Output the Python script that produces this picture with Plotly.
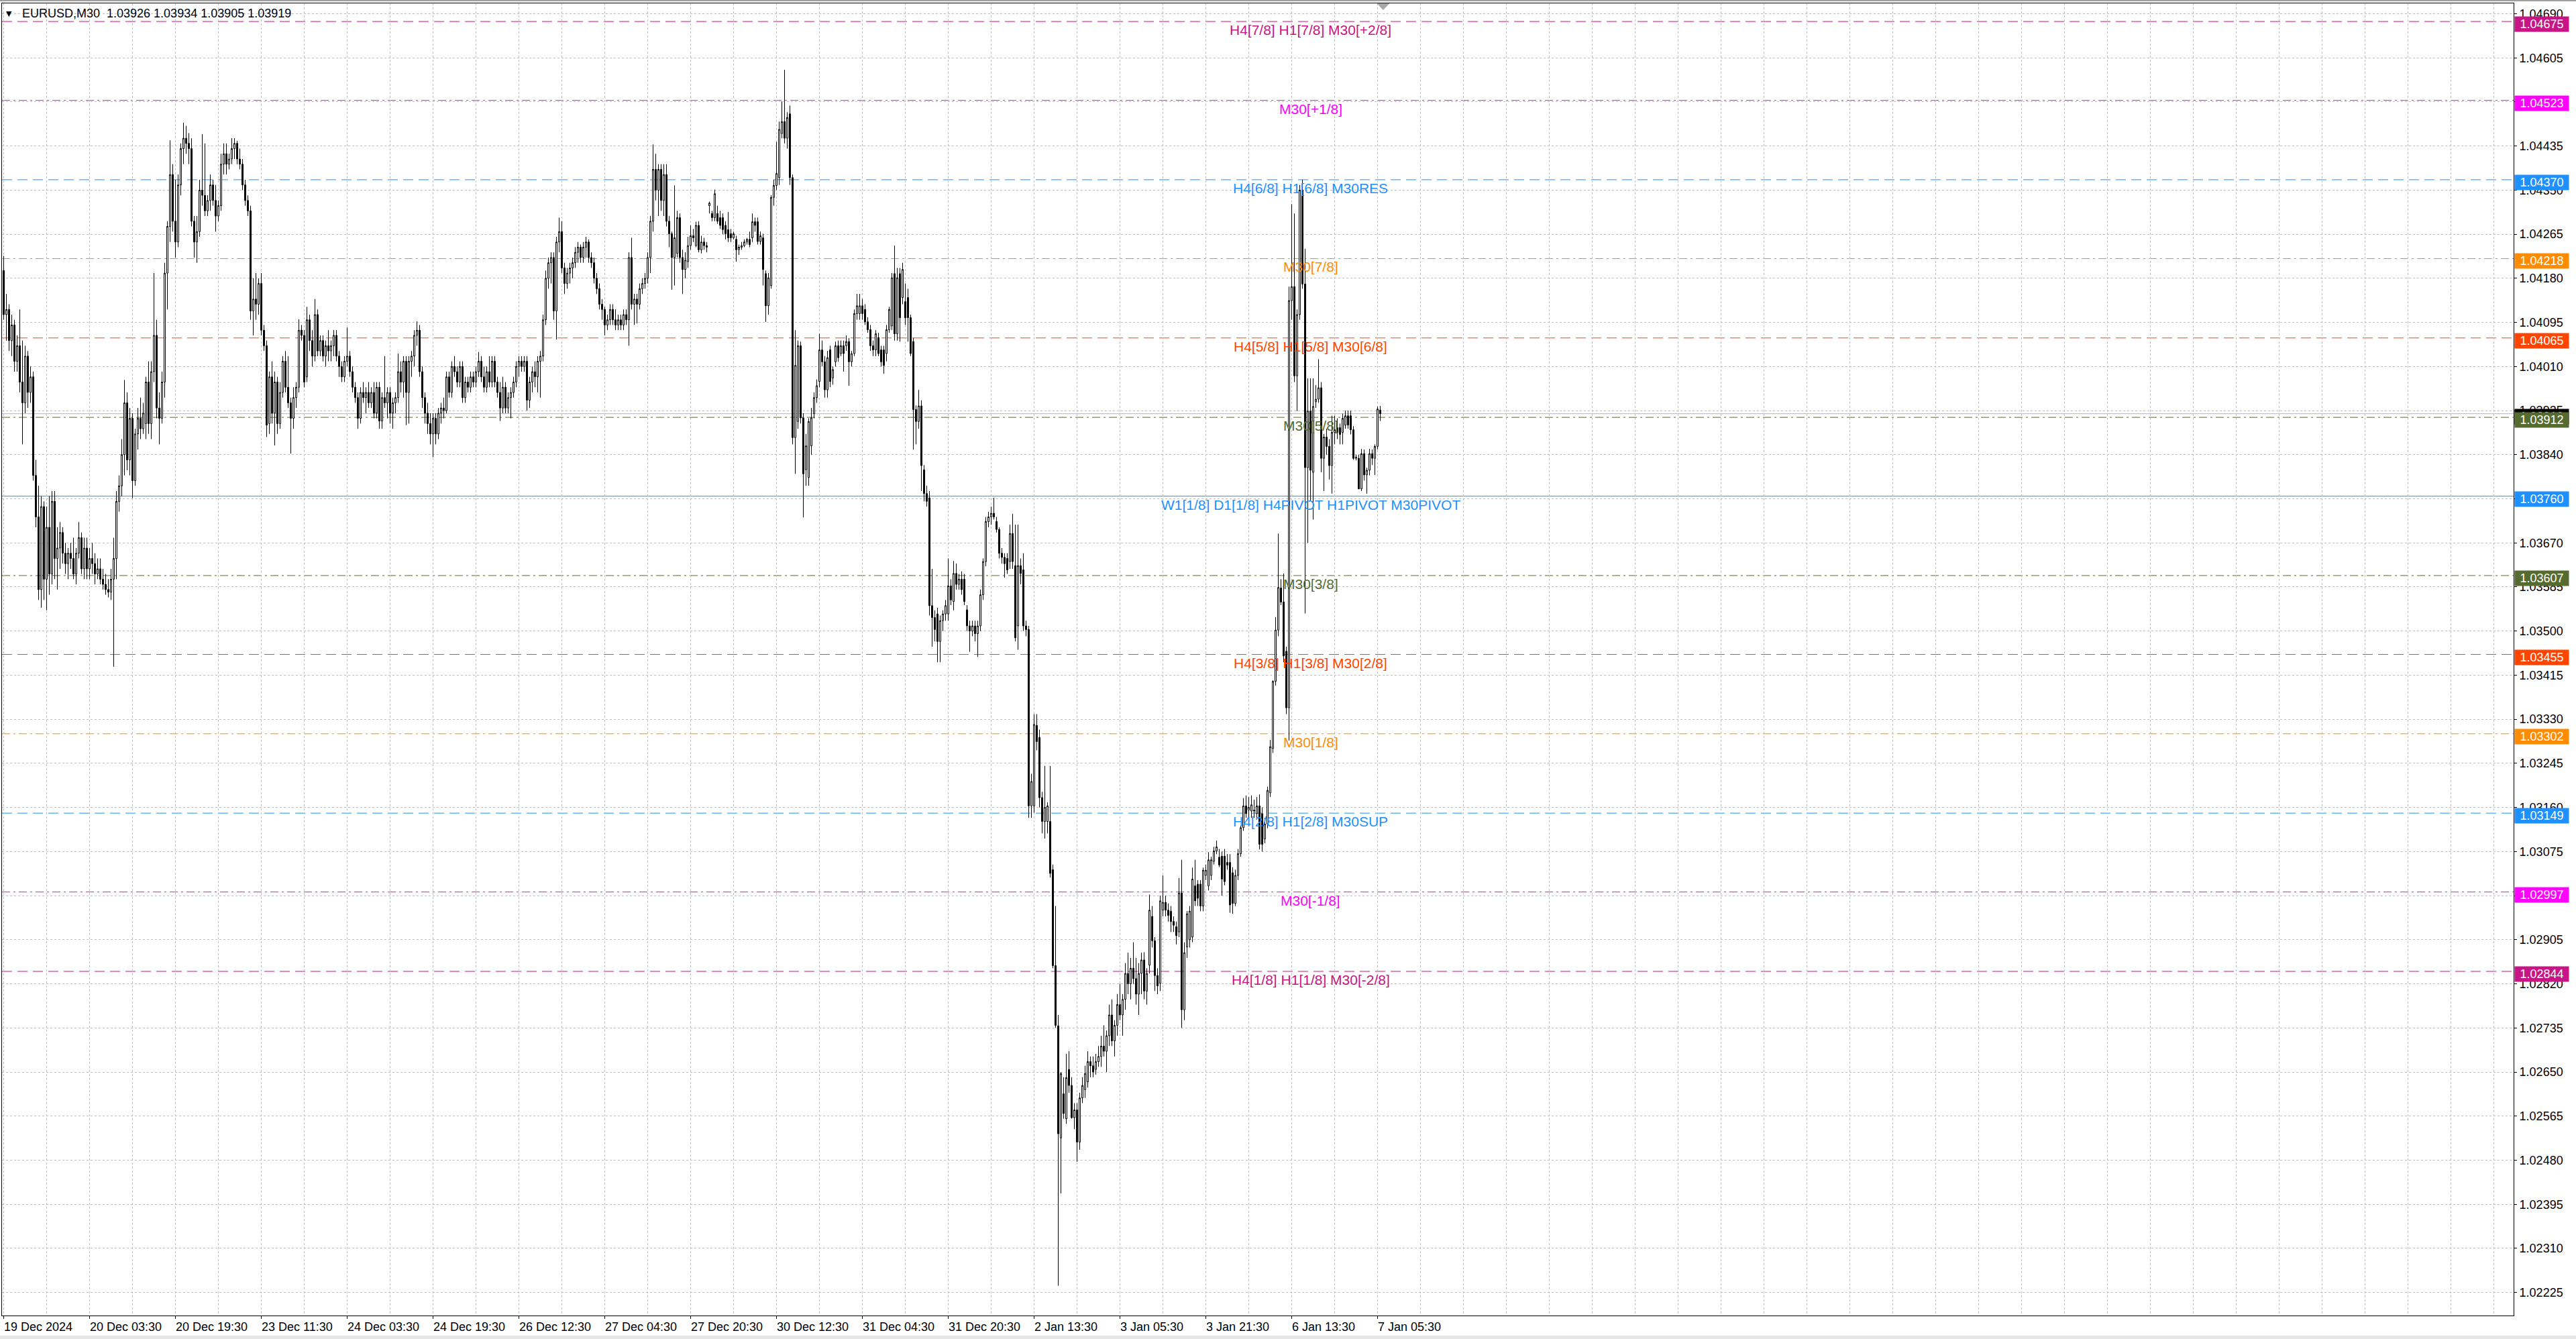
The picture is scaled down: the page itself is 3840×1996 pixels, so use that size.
import plotly.graph_objects as go

SYMBOL = "EURUSD,M30"

OPEN = [
    1.04195, 1.04110, 1.04120, 1.04060, 1.04090, 1.04020, 1.04050, 1.03980, 1.03940, 1.04030,
    1.03960, 1.03990, 1.03800, 1.03720, 1.03580, 1.03740, 1.03600, 1.03700, 1.03610, 1.03750,
    1.03640, 1.03660, 1.03690, 1.03650, 1.03630, 1.03650, 1.03640, 1.03610, 1.03650, 1.03680,
    1.03620, 1.03660, 1.03620, 1.03640, 1.03630, 1.03610, 1.03620, 1.03600, 1.03590, 1.03580,
    1.03575, 1.03600, 1.03640, 1.03750, 1.03780, 1.03840, 1.03940, 1.03830, 1.03910, 1.03790,
    1.03880, 1.03910, 1.03890, 1.03900, 1.03980, 1.03900, 1.04000, 1.04070, 1.03930, 1.03910,
    1.03980, 1.04190, 1.04280, 1.04380, 1.04290, 1.04250, 1.04360, 1.04430, 1.04450, 1.04440,
    1.04430, 1.04290, 1.04250, 1.04270, 1.04350, 1.04340, 1.04310, 1.04330, 1.04360, 1.04330,
    1.04300, 1.04320, 1.04400, 1.04420, 1.04400, 1.04410, 1.04430, 1.04440, 1.04410, 1.04400,
    1.04360, 1.04330, 1.04310, 1.04117, 1.04140, 1.04130, 1.04170, 1.04080, 1.04050, 1.03900,
    1.03990, 1.03920, 1.03980, 1.03900, 1.03960, 1.04020, 1.03970, 1.03940, 1.03910, 1.03950,
    1.03970, 1.04080, 1.04070, 1.03990, 1.04100, 1.04060, 1.04030, 1.04110, 1.04040, 1.04060,
    1.04030, 1.04050, 1.04040, 1.04050, 1.04070, 1.04030, 1.04010, 1.03990, 1.04020, 1.04030,
    1.04000, 1.03970, 1.03950, 1.03910, 1.03960, 1.03950, 1.03960, 1.03940, 1.03960, 1.03920,
    1.03970, 1.03905, 1.03950, 1.03940, 1.03960, 1.03920, 1.03940, 1.03950, 1.04000, 1.03980,
    1.04020, 1.03960, 1.04020, 1.04030, 1.04070, 1.04080, 1.04000, 1.03950, 1.03920, 1.03900,
    1.03880, 1.03910, 1.03880, 1.03920, 1.03930, 1.03925, 1.03990, 1.03960, 1.04010, 1.04000,
    1.03980, 1.04010, 1.03950, 1.03980, 1.03970, 1.03990, 1.03980, 1.04000, 1.04020, 1.03990,
    1.03970, 1.04000, 1.03980, 1.04020, 1.03980, 1.03960, 1.03930, 1.03970, 1.03930, 1.03950,
    1.03960, 1.03980, 1.04010, 1.04020, 1.04010, 1.04020, 1.03945, 1.03980, 1.04000, 1.03990,
    1.04020, 1.04030, 1.04100, 1.04180, 1.04210, 1.04220, 1.04117, 1.04250, 1.04270, 1.04200,
    1.04170, 1.04190, 1.04200, 1.04210, 1.04230, 1.04240, 1.04220, 1.04240, 1.04250, 1.04220,
    1.04210, 1.04180, 1.04160, 1.04130, 1.04120, 1.04090, 1.04100, 1.04120, 1.04100, 1.04090,
    1.04100, 1.04090, 1.04110, 1.04100, 1.04220, 1.04130, 1.04140, 1.04130, 1.04160, 1.04170,
    1.04180, 1.04220, 1.04290, 1.04390, 1.04350, 1.04390, 1.04330, 1.04380, 1.04290, 1.04266,
    1.04220, 1.04228, 1.04297, 1.04220, 1.04197, 1.04212, 1.04243, 1.04262, 1.04243, 1.04282,
    1.04235, 1.04250, 1.04243, 1.04320, 1.04305, 1.04297, 1.04305, 1.04297, 1.04297, 1.04282,
    1.04274, 1.04266, 1.04258, 1.04255, 1.04235, 1.04240, 1.04243, 1.04250, 1.04255, 1.04258,
    1.04289, 1.04289, 1.04251, 1.04258, 1.04189, 1.04127, 1.04166, 1.04336, 1.04359, 1.04374,
    1.04459, 1.04482, 1.04450, 1.04497, 1.04374, 1.03873, 1.03904, 1.04050, 1.03911, 1.03811,
    1.03796, 1.03857, 1.03919, 1.03950, 1.03981, 1.04042, 1.04019, 1.03965, 1.04042, 1.03988,
    1.04019, 1.04050, 1.04035, 1.04050, 1.04050, 1.04058, 1.04019, 1.04035, 1.04112, 1.04112,
    1.04127, 1.04120, 1.04096, 1.04081, 1.04050, 1.04042, 1.04066, 1.04042, 1.04042, 1.04035,
    1.04081, 1.04088, 1.04189, 1.04073, 1.04189, 1.04143, 1.04135, 1.04143, 1.04104, 1.04058,
    1.03927, 1.03904, 1.03934, 1.03811, 1.03765, 1.03757, 1.03549, 1.03526, 1.03533, 1.03480,
    1.03520, 1.03533, 1.03533, 1.03587, 1.03557, 1.03611, 1.03590, 1.03600, 1.03600, 1.03541,
    1.03510, 1.03500, 1.03510, 1.03495, 1.03510, 1.03570, 1.03634, 1.03711, 1.03720, 1.03727,
    1.03711, 1.03696, 1.03650, 1.03642, 1.03640, 1.03634, 1.03688, 1.03626, 1.03510, 1.03626,
    1.03618, 1.03510, 1.03503, 1.03163, 1.03163, 1.03318, 1.03295, 1.03179, 1.03133, 1.03133,
    1.03133, 1.03040, 1.02855, 1.02739, 1.02523, 1.02608, 1.02560, 1.02655, 1.02624, 1.02562,
    1.02577, 1.02515, 1.02600, 1.02616, 1.02631, 1.02670, 1.02662, 1.02655, 1.02670, 1.02680,
    1.02700, 1.02690, 1.02720, 1.02760, 1.02710, 1.02740, 1.02780, 1.02760, 1.02790, 1.02840,
    1.02820, 1.02850, 1.02830, 1.02800, 1.02840, 1.02866, 1.02806, 1.02856, 1.02950, 1.02903,
    1.02836, 1.02821, 1.02962, 1.02977, 1.02962, 1.02960, 1.02940, 1.02930, 1.02920, 1.02995,
    1.02770, 1.02891, 1.02905, 1.02910, 1.03009, 1.03012, 1.03012, 1.02970, 1.03029, 1.03009,
    1.03029, 1.03056, 1.03076, 1.03064, 1.03066, 1.03066, 1.03054, 1.03054, 1.03034, 1.02975,
    1.03029, 1.03071, 1.03121, 1.03163, 1.03155, 1.03153, 1.03155, 1.03148, 1.03163, 1.03148,
    1.03099, 1.03128, 1.03188, 1.03274, 1.03403, 1.03502, 1.03583, 1.03556, 1.03461, 1.03352,
    1.04137, 1.04164, 1.03992, 1.04110, 1.04350, 1.04169, 1.03815, 1.03924, 1.03806, 1.03942,
    1.03947, 1.03969, 1.03833, 1.03874, 1.03856, 1.03819, 1.03883, 1.03892, 1.03892, 1.03883,
    1.03897, 1.03915, 1.03915, 1.03888, 1.03833, 1.03833, 1.03774, 1.03842, 1.03801, 1.03810,
    1.03842, 1.03833, 1.03856, 1.03926,
]

HIGH = [
    1.04223, 1.04150, 1.04130, 1.04110, 1.04100, 1.04070, 1.04120, 1.04060, 1.04050, 1.04040,
    1.04010, 1.04000, 1.03830, 1.03780, 1.03760, 1.03750, 1.03740, 1.03760, 1.03770, 1.03770,
    1.03700, 1.03710, 1.03700, 1.03670, 1.03660, 1.03670, 1.03680, 1.03660, 1.03710, 1.03690,
    1.03680, 1.03680, 1.03660, 1.03670, 1.03650, 1.03640, 1.03640, 1.03620, 1.03610, 1.03600,
    1.03620, 1.03680, 1.03770, 1.03800, 1.03870, 1.03984, 1.03960, 1.03930, 1.03920, 1.03890,
    1.03930, 1.03950, 1.03940, 1.03990, 1.04020, 1.04020, 1.04190, 1.04100, 1.03960, 1.04000,
    1.04210, 1.04290, 1.04446, 1.04400, 1.04370, 1.04380, 1.04440, 1.04480, 1.04474, 1.04460,
    1.04450, 1.04300, 1.04300, 1.04370, 1.04458, 1.04440, 1.04340, 1.04380, 1.04370, 1.04360,
    1.04330, 1.04420, 1.04440, 1.04440, 1.04420, 1.04450, 1.04450, 1.04445, 1.04430, 1.04410,
    1.04370, 1.04340, 1.04320, 1.04180, 1.04190, 1.04180, 1.04190, 1.04090, 1.04060, 1.04000,
    1.04020, 1.04000, 1.03990, 1.03980, 1.04030, 1.04040, 1.04030, 1.03950, 1.03970, 1.03980,
    1.04101, 1.04090, 1.04080, 1.04125, 1.04110, 1.04080, 1.04140, 1.04120, 1.04070, 1.04070,
    1.04060, 1.04080, 1.04060, 1.04080, 1.04080, 1.04040, 1.04020, 1.04030, 1.04085, 1.04040,
    1.04010, 1.03980, 1.03960, 1.03970, 1.03980, 1.03970, 1.03980, 1.03970, 1.03980, 1.03980,
    1.03980, 1.03960, 1.04030, 1.03970, 1.03970, 1.03950, 1.03960, 1.04035, 1.04020, 1.04030,
    1.04030, 1.04030, 1.04040, 1.04080, 1.04097, 1.04090, 1.04010, 1.03960, 1.03940, 1.03920,
    1.03920, 1.03920, 1.03930, 1.03940, 1.03950, 1.04000, 1.04000, 1.04020, 1.04030, 1.04010,
    1.04020, 1.04020, 1.03990, 1.03990, 1.04000, 1.04000, 1.04010, 1.04038, 1.04030, 1.04010,
    1.04010, 1.04030, 1.04030, 1.04030, 1.03990, 1.03980, 1.03990, 1.03980, 1.03960, 1.03970,
    1.03990, 1.04020, 1.04030, 1.04030, 1.04030, 1.04030, 1.03990, 1.04010, 1.04020, 1.04030,
    1.04040, 1.04110, 1.04195, 1.04220, 1.04230, 1.04230, 1.04260, 1.04297, 1.04290, 1.04210,
    1.04200, 1.04210, 1.04220, 1.04240, 1.04250, 1.04245, 1.04250, 1.04260, 1.04255, 1.04230,
    1.04220, 1.04190, 1.04170, 1.04140, 1.04125, 1.04110, 1.04130, 1.04130, 1.04120, 1.04110,
    1.04110, 1.04120, 1.04120, 1.04230, 1.04258, 1.04150, 1.04150, 1.04170, 1.04180, 1.04190,
    1.04230, 1.04300, 1.04438, 1.04420, 1.04400, 1.04400, 1.04400, 1.04400, 1.04300, 1.04270,
    1.04359, 1.04310, 1.04305, 1.04235, 1.04230, 1.04260, 1.04282, 1.04275, 1.04289, 1.04290,
    1.04262, 1.04258, 1.04250, 1.04328, 1.04310, 1.04351, 1.04320, 1.04310, 1.04305, 1.04290,
    1.04308, 1.04275, 1.04270, 1.04262, 1.04245, 1.04250, 1.04255, 1.04258, 1.04270, 1.04305,
    1.04297, 1.04297, 1.04270, 1.04266, 1.04195, 1.04190, 1.04340, 1.04370, 1.04443, 1.04482,
    1.04521, 1.04582, 1.04500, 1.04513, 1.04380, 1.04080, 1.04060, 1.04058, 1.03920, 1.03880,
    1.03910, 1.03930, 1.03960, 1.03985, 1.04073, 1.04060, 1.04030, 1.04040, 1.04050, 1.04010,
    1.04058, 1.04060, 1.04060, 1.04060, 1.04070, 1.04065, 1.04040, 1.04120, 1.04150, 1.04150,
    1.04140, 1.04130, 1.04105, 1.04090, 1.04060, 1.04080, 1.04075, 1.04050, 1.04050, 1.04090,
    1.04125, 1.04190, 1.04243, 1.04200, 1.04200, 1.04210, 1.04170, 1.04160, 1.04110, 1.04065,
    1.03935, 1.03965, 1.03945, 1.03820, 1.03780, 1.03770, 1.03620, 1.03540, 1.03545, 1.03530,
    1.03540, 1.03560, 1.03640, 1.03600, 1.03635, 1.03630, 1.03610, 1.03615, 1.03610, 1.03550,
    1.03520, 1.03520, 1.03520, 1.03520, 1.03580, 1.03640, 1.03720, 1.03730, 1.03740, 1.03757,
    1.03720, 1.03700, 1.03660, 1.03650, 1.03650, 1.03705, 1.03726, 1.03705, 1.03705, 1.03640,
    1.03650, 1.03520, 1.03510, 1.03225, 1.03340, 1.03340, 1.03310, 1.03190, 1.03240, 1.03170,
    1.03240, 1.03050, 1.02970, 1.02760, 1.02650, 1.02640, 1.02685, 1.02690, 1.02640, 1.02590,
    1.02590, 1.02610, 1.02640, 1.02662, 1.02690, 1.02680, 1.02680, 1.02685, 1.02700, 1.02720,
    1.02740, 1.02730, 1.02780, 1.02790, 1.02750, 1.02800, 1.02820, 1.02800, 1.02860, 1.02880,
    1.02870, 1.02900, 1.02870, 1.02860, 1.02880, 1.02881, 1.02850, 1.02992, 1.02970, 1.02910,
    1.02850, 1.02990, 1.03029, 1.02990, 1.02975, 1.02970, 1.02950, 1.02940, 1.03024, 1.03059,
    1.02900, 1.02960, 1.02970, 1.03044, 1.03059, 1.03020, 1.03020, 1.03044, 1.03050, 1.03074,
    1.03065, 1.03084, 1.03096, 1.03080, 1.03075, 1.03080, 1.03070, 1.03070, 1.03045, 1.03040,
    1.03080, 1.03125, 1.03178, 1.03183, 1.03180, 1.03183, 1.03175, 1.03180, 1.03185, 1.03160,
    1.03140, 1.03200, 1.03290, 1.03405, 1.03527, 1.03688, 1.03600, 1.03611, 1.03470, 1.04164,
    1.04323, 1.04305, 1.04120, 1.04360, 1.04370, 1.04237, 1.03987, 1.03987, 1.03987, 1.03974,
    1.04024, 1.03980, 1.03880, 1.03890, 1.03870, 1.03915, 1.03915, 1.03910, 1.03900, 1.03919,
    1.03925, 1.03925, 1.03925, 1.03895, 1.03840, 1.03840, 1.03851, 1.03850, 1.03815, 1.03851,
    1.03850, 1.03860, 1.03933, 1.03934,
]

LOW = [
    1.04100, 1.04060, 1.04040, 1.04030, 1.04000, 1.04000, 1.03960, 1.03860, 1.03920, 1.03930,
    1.03940, 1.03790, 1.03700, 1.03560, 1.03545, 1.03560, 1.03540, 1.03570, 1.03590, 1.03600,
    1.03580, 1.03620, 1.03630, 1.03610, 1.03600, 1.03620, 1.03600, 1.03590, 1.03640, 1.03610,
    1.03600, 1.03600, 1.03600, 1.03610, 1.03590, 1.03600, 1.03590, 1.03580, 1.03570, 1.03565,
    1.03560, 1.03431, 1.03600, 1.03730, 1.03760, 1.03800, 1.03810, 1.03800, 1.03756, 1.03780,
    1.03850, 1.03870, 1.03880, 1.03870, 1.03880, 1.03870, 1.03980, 1.03910, 1.03860, 1.03900,
    1.03950, 1.04120, 1.04250, 1.04270, 1.04220, 1.04240, 1.04340, 1.04400, 1.04420, 1.04400,
    1.04280, 1.04220, 1.04210, 1.04260, 1.04320, 1.04300, 1.04300, 1.04310, 1.04320, 1.04270,
    1.04290, 1.04310, 1.04380, 1.04380, 1.04390, 1.04400, 1.04410, 1.04400, 1.04390, 1.04350,
    1.04320, 1.04300, 1.04100, 1.04070, 1.04100, 1.04110, 1.04070, 1.04040, 1.03874, 1.03880,
    1.03900, 1.03858, 1.03880, 1.03890, 1.03950, 1.03960, 1.03930, 1.03842, 1.03890, 1.03930,
    1.03960, 1.04060, 1.03970, 1.03980, 1.04040, 1.04010, 1.04020, 1.04030, 1.04030, 1.04020,
    1.04010, 1.04020, 1.04020, 1.04030, 1.04020, 1.03990, 1.03980, 1.03980, 1.04010, 1.03990,
    1.03960, 1.03940, 1.03890, 1.03900, 1.03940, 1.03920, 1.03930, 1.03930, 1.03910, 1.03910,
    1.03890, 1.03890, 1.03930, 1.03910, 1.03900, 1.03890, 1.03920, 1.03940, 1.03960, 1.03950,
    1.03897, 1.03900, 1.03990, 1.04010, 1.04050, 1.03990, 1.03930, 1.03900, 1.03880, 1.03860,
    1.03835, 1.03860, 1.03870, 1.03900, 1.03910, 1.03920, 1.03950, 1.03950, 1.03990, 1.03970,
    1.03970, 1.03940, 1.03940, 1.03960, 1.03960, 1.03970, 1.03970, 1.03990, 1.03980, 1.03960,
    1.03960, 1.03970, 1.03970, 1.03970, 1.03950, 1.03905, 1.03920, 1.03920, 1.03920, 1.03910,
    1.03950, 1.03970, 1.03990, 1.04000, 1.04000, 1.03925, 1.03930, 1.03960, 1.03970, 1.03960,
    1.03950, 1.04020, 1.04090, 1.04160, 1.04170, 1.04100, 1.04062, 1.04230, 1.04190, 1.04150,
    1.04160, 1.04170, 1.04180, 1.04200, 1.04210, 1.04210, 1.04210, 1.04220, 1.04210, 1.04200,
    1.04170, 1.04150, 1.04120, 1.04100, 1.04070, 1.04080, 1.04090, 1.04090, 1.04080, 1.04080,
    1.04080, 1.04080, 1.04090, 1.04050, 1.04120, 1.04090, 1.04093, 1.04120, 1.04150, 1.04160,
    1.04170, 1.04190, 1.04270, 1.04330, 1.04300, 1.04310, 1.04300, 1.04280, 1.04240, 1.04158,
    1.04166, 1.04220, 1.04210, 1.04150, 1.04180, 1.04200, 1.04235, 1.04250, 1.04240, 1.04230,
    1.04228, 1.04235, 1.04230, 1.04305, 1.04290, 1.04290, 1.04285, 1.04275, 1.04265, 1.04255,
    1.04250, 1.04250, 1.04255, 1.04212, 1.04225, 1.04235, 1.04240, 1.04245, 1.04240, 1.04250,
    1.04270, 1.04245, 1.04245, 1.04166, 1.04096, 1.04110, 1.04160, 1.04320, 1.04350, 1.04360,
    1.04450, 1.04440, 1.04430, 1.04360, 1.03860, 1.03803, 1.03890, 1.03900, 1.03719, 1.03780,
    1.03780, 1.03840, 1.03910, 1.03940, 1.03970, 1.04010, 1.03950, 1.03950, 1.03970, 1.03975,
    1.04010, 1.04019, 1.04030, 1.04000, 1.04040, 1.03973, 1.04010, 1.04030, 1.04100, 1.04100,
    1.04100, 1.04090, 1.04075, 1.04040, 1.04030, 1.04030, 1.04030, 1.04010, 1.03996, 1.04020,
    1.04075, 1.04080, 1.04060, 1.04060, 1.04058, 1.04130, 1.04090, 1.04058, 1.04030, 1.03850,
    1.03860, 1.03890, 1.03770, 1.03750, 1.03740, 1.03530, 1.03470, 1.03480, 1.03440, 1.03440,
    1.03500, 1.03520, 1.03520, 1.03550, 1.03540, 1.03580, 1.03580, 1.03570, 1.03550, 1.03500,
    1.03460, 1.03490, 1.03480, 1.03450, 1.03500, 1.03560, 1.03625, 1.03700, 1.03705, 1.03715,
    1.03690, 1.03640, 1.03630, 1.03603, 1.03610, 1.03620, 1.03620, 1.03480, 1.03464, 1.03590,
    1.03500, 1.03490, 1.03140, 1.03140, 1.03150, 1.03270, 1.03160, 1.03110, 1.03100, 1.03110,
    1.03025, 1.02850, 1.02735, 1.02238, 1.02416, 1.02560, 1.02550, 1.02610, 1.02560, 1.02540,
    1.02477, 1.02500, 1.02590, 1.02600, 1.02620, 1.02640, 1.02640, 1.02645, 1.02660, 1.02660,
    1.02680, 1.02650, 1.02700, 1.02700, 1.02680, 1.02720, 1.02750, 1.02720, 1.02770, 1.02800,
    1.02790, 1.02820, 1.02780, 1.02760, 1.02800, 1.02790, 1.02780, 1.02840, 1.02890, 1.02806,
    1.02800, 1.02806, 1.02950, 1.02950, 1.02940, 1.02920, 1.02920, 1.02896, 1.02910, 1.02735,
    1.02750, 1.02870, 1.02890, 1.02900, 1.02970, 1.02970, 1.02960, 1.02960, 1.03020, 1.03000,
    1.03020, 1.03050, 1.03070, 1.03045, 1.02990, 1.03010, 1.03040, 1.02957, 1.02955, 1.02970,
    1.03020, 1.03065, 1.03115, 1.03140, 1.03140, 1.03140, 1.03140, 1.03140, 1.03079, 1.03075,
    1.03091, 1.03120, 1.03180, 1.03265, 1.03395, 1.03490, 1.03550, 1.03440, 1.03340, 1.03289,
    1.04100, 1.03980, 1.03924, 1.04100, 1.04160, 1.03534, 1.03670, 1.03751, 1.03715, 1.03930,
    1.03940, 1.03806, 1.03770, 1.03840, 1.03792, 1.03765, 1.03860, 1.03870, 1.03860, 1.03860,
    1.03890, 1.03890, 1.03879, 1.03830, 1.03829, 1.03774, 1.03770, 1.03790, 1.03765, 1.03800,
    1.03820, 1.03801, 1.03850, 1.03905,
]

CLOSE = [
    1.04110, 1.04120, 1.04060, 1.04090, 1.04020, 1.04050, 1.03980, 1.03940, 1.04030, 1.03960,
    1.03990, 1.03800, 1.03720, 1.03580, 1.03740, 1.03600, 1.03700, 1.03610, 1.03750, 1.03640,
    1.03660, 1.03690, 1.03650, 1.03630, 1.03650, 1.03640, 1.03610, 1.03650, 1.03680, 1.03620,
    1.03660, 1.03620, 1.03640, 1.03630, 1.03610, 1.03620, 1.03600, 1.03590, 1.03580, 1.03575,
    1.03600, 1.03640, 1.03750, 1.03780, 1.03840, 1.03940, 1.03830, 1.03910, 1.03790, 1.03880,
    1.03910, 1.03890, 1.03920, 1.03980, 1.03900, 1.04000, 1.04070, 1.03930, 1.03910, 1.03980,
    1.04190, 1.04280, 1.04380, 1.04290, 1.04250, 1.04360, 1.04430, 1.04450, 1.04440, 1.04430,
    1.04290, 1.04250, 1.04270, 1.04350, 1.04340, 1.04310, 1.04330, 1.04360, 1.04330, 1.04300,
    1.04320, 1.04400, 1.04420, 1.04400, 1.04410, 1.04430, 1.04440, 1.04410, 1.04400, 1.04360,
    1.04330, 1.04310, 1.04117, 1.04140, 1.04130, 1.04170, 1.04080, 1.04050, 1.03897, 1.03990,
    1.03920, 1.03980, 1.03900, 1.03960, 1.04020, 1.03970, 1.03940, 1.03910, 1.03950, 1.03970,
    1.04080, 1.04070, 1.03980, 1.04100, 1.04060, 1.04030, 1.04110, 1.04040, 1.04060, 1.04030,
    1.04050, 1.04040, 1.04050, 1.04070, 1.04030, 1.04010, 1.03990, 1.04020, 1.04030, 1.04000,
    1.03970, 1.03950, 1.03910, 1.03960, 1.03950, 1.03960, 1.03940, 1.03960, 1.03920, 1.03970,
    1.03905, 1.03950, 1.03940, 1.03960, 1.03920, 1.03940, 1.03950, 1.04000, 1.03980, 1.04020,
    1.03960, 1.04020, 1.04030, 1.04070, 1.04080, 1.04000, 1.03950, 1.03920, 1.03900, 1.03880,
    1.03910, 1.03880, 1.03920, 1.03930, 1.03925, 1.03990, 1.03960, 1.04010, 1.04000, 1.03980,
    1.04010, 1.03950, 1.03980, 1.03970, 1.03990, 1.03980, 1.04000, 1.04020, 1.03990, 1.03970,
    1.04000, 1.03980, 1.04020, 1.03980, 1.03960, 1.03930, 1.03970, 1.03930, 1.03950, 1.03960,
    1.03980, 1.04010, 1.04020, 1.04010, 1.04020, 1.03945, 1.03980, 1.04000, 1.03990, 1.04020,
    1.04030, 1.04100, 1.04180, 1.04210, 1.04220, 1.04117, 1.04250, 1.04270, 1.04200, 1.04170,
    1.04190, 1.04200, 1.04210, 1.04230, 1.04240, 1.04220, 1.04240, 1.04250, 1.04220, 1.04210,
    1.04180, 1.04160, 1.04130, 1.04120, 1.04090, 1.04100, 1.04120, 1.04100, 1.04090, 1.04100,
    1.04090, 1.04110, 1.04100, 1.04220, 1.04130, 1.04140, 1.04130, 1.04160, 1.04170, 1.04180,
    1.04220, 1.04290, 1.04390, 1.04350, 1.04390, 1.04330, 1.04380, 1.04290, 1.04266, 1.04220,
    1.04258, 1.04297, 1.04220, 1.04197, 1.04215, 1.04243, 1.04262, 1.04258, 1.04282, 1.04235,
    1.04250, 1.04243, 1.04240, 1.04325, 1.04297, 1.04343, 1.04290, 1.04282, 1.04274, 1.04266,
    1.04258, 1.04258, 1.04266, 1.04235, 1.04240, 1.04243, 1.04250, 1.04255, 1.04245, 1.04289,
    1.04282, 1.04251, 1.04262, 1.04197, 1.04127, 1.04181, 1.04336, 1.04359, 1.04382, 1.04467,
    1.04482, 1.04450, 1.04490, 1.04374, 1.03873, 1.04012, 1.04050, 1.03911, 1.03803, 1.03857,
    1.03904, 1.03911, 1.03950, 1.03973, 1.04042, 1.04019, 1.03965, 1.04027, 1.03981, 1.04004,
    1.04050, 1.04027, 1.04050, 1.04035, 1.04058, 1.04019, 1.04035, 1.04112, 1.04127, 1.04127,
    1.04112, 1.04096, 1.04081, 1.04050, 1.04042, 1.04073, 1.04035, 1.04019, 1.04012, 1.04081,
    1.04120, 1.04181, 1.04073, 1.04181, 1.04104, 1.04197, 1.04104, 1.04104, 1.04035, 1.03927,
    1.03904, 1.03934, 1.03819, 1.03765, 1.03750, 1.03549, 1.03526, 1.03503, 1.03480, 1.03520,
    1.03533, 1.03549, 1.03587, 1.03560, 1.03611, 1.03590, 1.03600, 1.03580, 1.03557, 1.03510,
    1.03500, 1.03510, 1.03495, 1.03510, 1.03570, 1.03634, 1.03711, 1.03720, 1.03727, 1.03720,
    1.03696, 1.03650, 1.03642, 1.03630, 1.03618, 1.03688, 1.03634, 1.03487, 1.03626, 1.03611,
    1.03510, 1.03503, 1.03163, 1.03210, 1.03320, 1.03287, 1.03179, 1.03133, 1.03160, 1.03163,
    1.03033, 1.02855, 1.02740, 1.02531, 1.02647, 1.02570, 1.02639, 1.02624, 1.02562, 1.02577,
    1.02515, 1.02600, 1.02624, 1.02647, 1.02670, 1.02662, 1.02650, 1.02670, 1.02680, 1.02700,
    1.02690, 1.02720, 1.02760, 1.02710, 1.02740, 1.02780, 1.02760, 1.02790, 1.02840, 1.02820,
    1.02850, 1.02830, 1.02800, 1.02840, 1.02866, 1.02806, 1.02840, 1.02962, 1.02903, 1.02836,
    1.02816, 1.02980, 1.02977, 1.02962, 1.02952, 1.02940, 1.02933, 1.02913, 1.02995, 1.02770,
    1.02880, 1.02955, 1.02960, 1.03022, 1.02980, 1.02985, 1.02970, 1.03039, 1.03039, 1.03059,
    1.03059, 1.03076, 1.03084, 1.03049, 1.03022, 1.03017, 1.03049, 1.02972, 1.02975, 1.03029,
    1.03071, 1.03121, 1.03163, 1.03148, 1.03160, 1.03165, 1.03153, 1.03163, 1.03089, 1.03089,
    1.03128, 1.03193, 1.03277, 1.03403, 1.03502, 1.03584, 1.03556, 1.03452, 1.03352, 1.04137,
    1.04164, 1.03992, 1.04110, 1.04350, 1.04169, 1.03815, 1.03924, 1.03810, 1.03933, 1.03947,
    1.03969, 1.03833, 1.03874, 1.03856, 1.03819, 1.03883, 1.03888, 1.03883, 1.03879, 1.03910,
    1.03915, 1.03897, 1.03888, 1.03833, 1.03835, 1.03774, 1.03842, 1.03801, 1.03810, 1.03842,
    1.03833, 1.03856, 1.03928, 1.03919,
]

DATE_LABELS = ["19 Dec 2024", "20 Dec 03:30", "20 Dec 19:30", "23 Dec 11:30", "24 Dec 03:30",
               "24 Dec 19:30", "26 Dec 12:30", "27 Dec 04:30", "27 Dec 20:30", "30 Dec 12:30",
               "31 Dec 04:30", "31 Dec 20:30", "2 Jan 13:30", "3 Jan 05:30", "3 Jan 21:30",
               "6 Jan 13:30", "7 Jan 05:30"]
DATE_LABEL_BARS = [0, 32, 64, 96, 128, 160, 192, 224, 256, 288, 320, 352, 384, 416, 448, 480, 512]

PRICE_TICKS = [1.02225, 1.02310, 1.02395, 1.02480, 1.02565, 1.02650, 1.02735, 1.02820, 1.02905,
               1.02990, 1.03075, 1.03160, 1.03245, 1.03330, 1.03415, 1.03500, 1.03585, 1.03670,
               1.03755, 1.03840, 1.03925, 1.04010, 1.04095, 1.04180, 1.04265, 1.04350, 1.04435,
               1.04520, 1.04605, 1.04690]

LEVEL_PRICES = [1.04675, 1.04523, 1.04370, 1.04218, 1.04065, 1.03912, 1.03760,
                1.03607, 1.03455, 1.03302, 1.03149, 1.02997, 1.02844]
LEVEL_NAMES = ["H4[7/8] H1[7/8] M30[+2/8]", "M30[+1/8]", "H4[6/8] H1[6/8] M30RES", "M30[7/8]",
               "H4[5/8] H1[5/8] M30[6/8]", "M30[5/8]", "W1[1/8] D1[1/8] H4PIVOT H1PIVOT M30PIVOT",
               "M30[3/8]", "H4[3/8] H1[3/8] M30[2/8]", "M30[1/8]", "H4[2/8] H1[2/8] M30SUP",
               "M30[-1/8]", "H4[1/8] H1[1/8] M30[-2/8]"]
LEVEL_COLORS = ["#C71585", "#FF00FF", "#1E90FF", "#FF8C00", "#FF4500", "#556B2F", "#1E90FF",
                "#556B2F", "#FF4500", "#FF8C00", "#1E90FF", "#FF00FF", "#C71585"]
LEVEL_STYLE = ["dash", "dashdot", "dash", "dashdot", "dash", "dashdot", "solid",
               "dashdot", "dash", "dashdot", "dash", "dashdot", "dash"]

# ---------------------------------------------------------------- layout geometry
W, H = 3840, 1996
ML, MR, MT, MB = 3, 93, 5, 35
PLOT_W = W - ML - MR
PLOT_H = H - MT - MB
BAR_PX = 4.0
FIRST_BAR_PX = 2.5           # bar 0 centre sits on a pixel centre -> crisp 1px wicks
X0 = -FIRST_BAR_PX / BAR_PX
X1 = X0 + PLOT_W / BAR_PX
Y_TOP = 1.04710
Y_BOT = 1.021806
LABEL_X = 487.1

FONT = "Liberation Sans, Arial, sans-serif"
GRID = "#C0C0C0"

n = len(OPEN)
xs = list(range(n))
hi = [max(h, o, c) for h, o, c in zip(HIGH, OPEN, CLOSE)]
lo = [min(l, o, c) for l, o, c in zip(LOW, OPEN, CLOSE)]

fig = go.Figure()
fig.add_trace(go.Candlestick(
    x=xs, open=OPEN, high=hi, low=lo, close=CLOSE,
    increasing=dict(line=dict(color="black", width=1), fillcolor="white"),
    decreasing=dict(line=dict(color="black", width=1), fillcolor="black"),
    whiskerwidth=0, hoverinfo="skip", showlegend=False,
))

dash_map = {"dash": "15px,8px", "dashdot": "12px,5px,3px,5px", "solid": "solid"}
shapes = []
annotations = []

# current price line
shapes.append(dict(type="line", xref="paper", yref="y", x0=0, x1=1,
                   y0=CLOSE[-1], y1=CLOSE[-1], layer="between",
                   line=dict(color="#B4B4B4", width=1)))

for p, name, col, sty in zip(LEVEL_PRICES, LEVEL_NAMES, LEVEL_COLORS, LEVEL_STYLE):
    shapes.append(dict(type="line", xref="paper", yref="y", x0=0, x1=1, y0=p, y1=p,
                       layer="between", line=dict(color=col, width=1, dash=dash_map[sty])))
    annotations.append(dict(x=LABEL_X, y=p, xref="x", yref="y", text=name, showarrow=False,
                            xanchor="center", yanchor="top", yshift=0, borderpad=0,
                            font=dict(family=FONT, size=21, color=col)))

# price boxes on the right axis: current price (black) then levels on top
box_common = dict(xref="paper", yref="y", x=1, xanchor="left", xshift=1, yanchor="middle",
                  yshift=-4, showarrow=False, width=80, height=22, borderpad=0, align="center")
annotations.append(dict(y=CLOSE[-1], text=f"{CLOSE[-1]:.5f}", bgcolor="black",
                        font=dict(family=FONT, size=18, color="white"), **box_common))
for p, col in zip(LEVEL_PRICES, LEVEL_COLORS):
    annotations.append(dict(y=p, text=f"{p:.5f}", bgcolor=col,
                            font=dict(family=FONT, size=18, color="white"), **box_common))

# date labels (left-aligned at their tick)
for b, lab in zip(DATE_LABEL_BARS, DATE_LABELS):
    annotations.append(dict(x=b, y=0, xref="x", yref="paper", text=lab, showarrow=False,
                            xanchor="left", yanchor="top", xshift=-1, yshift=-6, borderpad=0,
                            font=dict(family=FONT, size=18, color="black")))

# title
annotations.append(dict(x=0, y=1, xref="paper", yref="paper", xanchor="left", yanchor="top",
                        xshift=29, yshift=-4, borderpad=0, showarrow=False,
                        text=f"{SYMBOL}  {OPEN[-1]:.5f} {HIGH[-1]:.5f} {LOW[-1]:.5f} {CLOSE[-1]:.5f}",
                        font=dict(family=FONT, size=18, color="black")))
annotations.append(dict(x=0, y=1, xref="paper", yref="paper", xanchor="left", yanchor="top",
                        xshift=5, yshift=-8, borderpad=0, showarrow=False, text="▼",
                        font=dict(family="DejaVu Sans", size=11, color="black")))

# chart-shift marker at the top edge
sx = n + 0.1
shapes.append(dict(type="path", xref="x", yref="paper", layer="above",
                   path=f"M {sx-2.4},1 L {sx+2.4},1 L {sx},{1-10/PLOT_H} Z",
                   fillcolor="#A8A8A8", line=dict(width=0)))

# thin grey strip at the very top and bottom of the window
shapes.append(dict(type="rect", xref="paper", yref="paper", x0=-ML / PLOT_W, x1=1 + MR / PLOT_W,
                   y0=1 + (MT - 2) / PLOT_H, y1=1 + MT / PLOT_H, layer="above",
                   fillcolor="#A0A0A0", line=dict(width=0)))
shapes.append(dict(type="rect", xref="paper", yref="paper", x0=-ML / PLOT_W, x1=1 + MR / PLOT_W,
                   y0=-MB / PLOT_H, y1=-(MB - 5) / PLOT_H, layer="above",
                   fillcolor="#E6E6E6", line=dict(width=0)))

fig.update_layout(
    width=W, height=H,
    margin=dict(l=ML, r=MR, t=MT, b=MB, pad=0),
    paper_bgcolor="white", plot_bgcolor="white",
    showlegend=False, hovermode=False,
    boxgap=0.5, boxgroupgap=0,
    shapes=shapes, annotations=annotations,
    xaxis=dict(
        range=[X0, X1], rangeslider=dict(visible=False), fixedrange=True,
        tickmode="array", tickvals=DATE_LABEL_BARS, showticklabels=False,
        ticks="outside", ticklen=4, tickcolor="black", tickwidth=1,
        showline=True, linecolor="black", linewidth=1, mirror=True,
        showgrid=True, gridcolor=GRID, gridwidth=1, griddash="3px,3px", zeroline=False,
        minor=dict(tickmode="array", tickvals=list(range(16, int(X1) + 1, 16)),
                   showgrid=True, gridcolor=GRID, gridwidth=1, griddash="3px,3px", ticks=""),
    ),
    yaxis=dict(
        range=[Y_BOT, Y_TOP], side="right", fixedrange=True,
        tickmode="array", tickvals=PRICE_TICKS, ticktext=[f"{v:.5f}" for v in PRICE_TICKS],
        ticks="outside", ticklen=4, tickcolor="black", tickwidth=1,
        tickfont=dict(family=FONT, size=18, color="black"),
        showline=True, linecolor="black", linewidth=1, mirror=True,
        showgrid=True, gridcolor=GRID, gridwidth=1, griddash="3px,3px", zeroline=False,
    ),
)

fig.write_html("out.html", config={"displayModeBar": False, "staticPlot": True},
               post_script="document.body.style.margin='0';document.body.style.overflow='hidden';")
